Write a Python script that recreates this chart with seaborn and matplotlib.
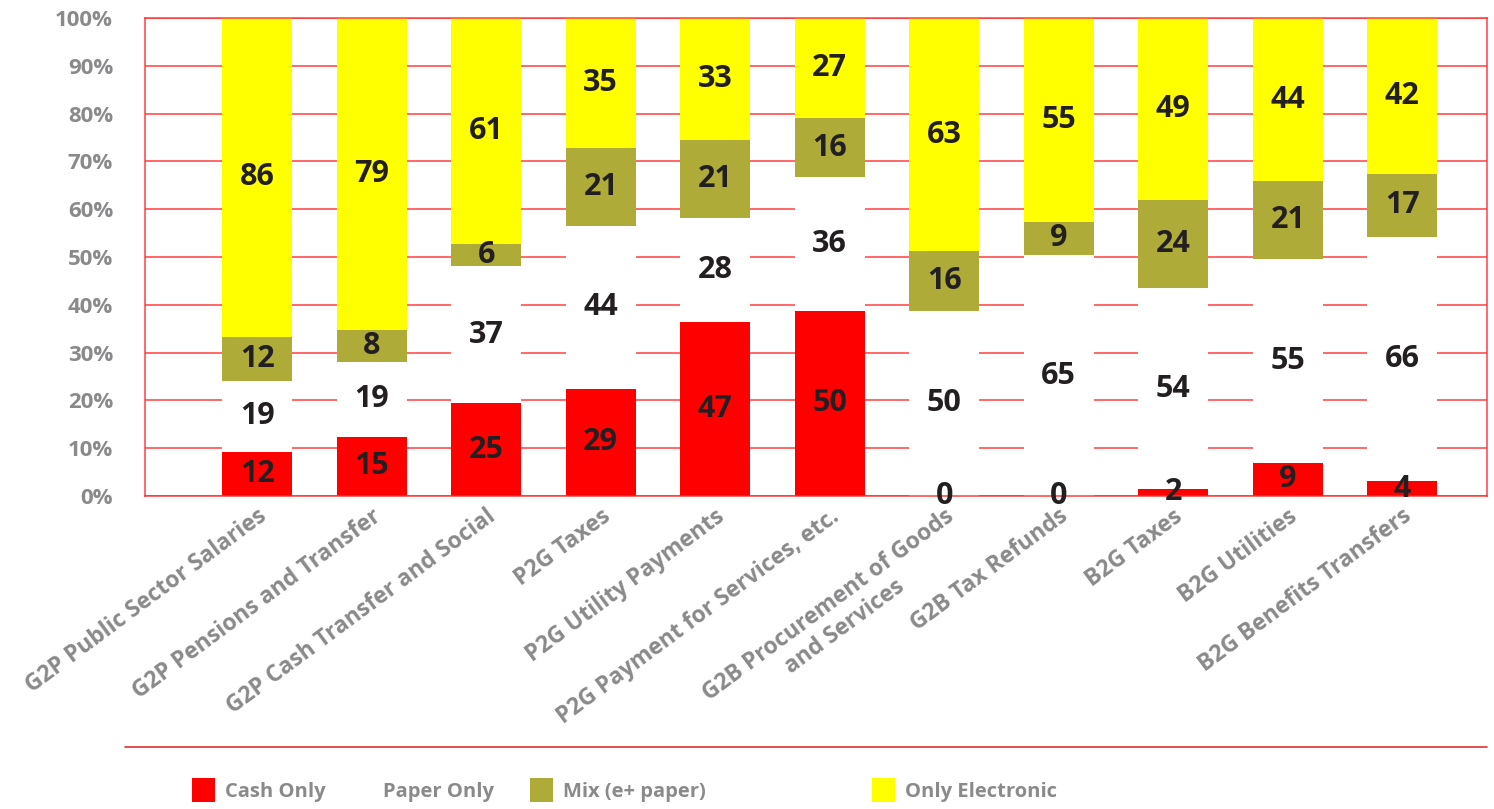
import numpy as np
import pandas as pd
import seaborn as sns
import matplotlib.pyplot as plt
from matplotlib.lines import Line2D
from matplotlib.patches import Patch
from matplotlib.ticker import PercentFormatter

categories = [
    "G2P Public Sector Salaries",
    "G2P Pensions and Transfer",
    "G2P Cash Transfer and Social",
    "P2G Taxes",
    "P2G Utility Payments",
    "P2G Payment for Services, etc.",
    "G2B Procurement of Goods\nand Services",
    "G2B Tax Refunds",
    "B2G Taxes",
    "B2G Utilities",
    "B2G Benefits Transfers",
]
cash_only = [12, 15, 25, 29, 47, 50, 0, 0, 2, 9, 4]
paper_only = [19, 19, 37, 44, 28, 36, 50, 65, 54, 55, 66]
mix_paper = [12, 8, 6, 21, 21, 16, 16, 9, 24, 21, 17]
only_electronic = [86, 79, 61, 35, 33, 27, 63, 55, 49, 44, 42]

series_names = ["Cash Only", "Paper Only", "Mix (e+ paper)", "Only Electronic"]
series_colors = ["#ff0000", "#ffffff", "#aeab38", "#ffff00"]

counts = pd.DataFrame(
    {"Cash Only": cash_only, "Paper Only": paper_only,
     "Mix (e+ paper)": mix_paper, "Only Electronic": only_electronic},
    index=categories,
)
shares = counts.div(counts.sum(axis=1), axis=0)
tops = shares.cumsum(axis=1)
bottoms = tops - shares

sns.set_style("white")
plt.rcParams["font.family"] = ["Open Sans", "DejaVu Sans"]

fig = plt.figure(figsize=(14.94, 8.09), dpi=100)
ax = fig.add_axes([145 / 1494, 1 - 496 / 809, (1487 - 145) / 1494, (496 - 18) / 809])

grid_red = "#ff3030"
ax.set_axisbelow(True)
ax.yaxis.grid(True, color=grid_red, linewidth=1.2, alpha=0.85)

# stacked bars: draw cumulative totals from the top layer down
for name, color in reversed(list(zip(series_names, series_colors))):
    sns.barplot(x=categories, y=tops[name].values, color=color, width=0.61,
                saturation=1, linewidth=0, ax=ax, zorder=2)

# value labels in the middle of each segment
for i, cat in enumerate(categories):
    for name in series_names:
        mid = bottoms.loc[cat, name] + shares.loc[cat, name] / 2
        ax.text(i, mid, f"{counts.loc[cat, name]}", ha="center", va="center",
                fontsize=22, fontweight="bold", color="#231f20", zorder=5)

ax.set_xlim(-0.98, 10.74)
ax.set_ylim(0, 1)
ax.set_yticks(np.arange(0, 1.01, 0.1))
ax.yaxis.set_major_formatter(PercentFormatter(1.0, decimals=0))
ax.tick_params(axis="y", length=14, width=1.2, color=grid_red, pad=9,
               labelsize=16, labelcolor="#8a8a8c")
ax.tick_params(axis="x", length=0, pad=6, labelsize=16.5, labelcolor="#8a8a8c")
for lab in ax.get_yticklabels():
    lab.set_fontweight("bold")
ax.set_xticks(range(len(categories)))
ax.set_xticklabels(categories, rotation=36.5, ha="right", va="top",
                   rotation_mode="anchor", multialignment="center",
                   fontweight="bold")
ax.set_xlabel("")
ax.set_ylabel("")
for side in ["left", "right", "top", "bottom"]:
    ax.spines[side].set_visible(True)
    ax.spines[side].set_color(grid_red)
    ax.spines[side].set_linewidth(1.2)
    ax.spines[side].set_alpha(0.85)

# separator line above the legend
fig.add_artist(Line2D([125 / 1494, 1487 / 1494], [1 - 747 / 809] * 2,
                      color="#e03030", linewidth=1.2, transform=fig.transFigure))

legend_x = [192, 350, 530, 872]
for name, color, x in zip(series_names, series_colors, legend_x):
    fig.legend(handles=[Patch(facecolor=color, edgecolor="none", label=name)],
               loc="center left", bbox_to_anchor=(x / 1494, 1 - 790 / 809),
               frameon=False, borderpad=0, borderaxespad=0,
               handlelength=1.15, handleheight=1.45, handletextpad=0.5,
               prop={"size": 14.5, "weight": "bold"}, labelcolor="#8a8a8c")

fig.savefig("out.png", dpi=100)
